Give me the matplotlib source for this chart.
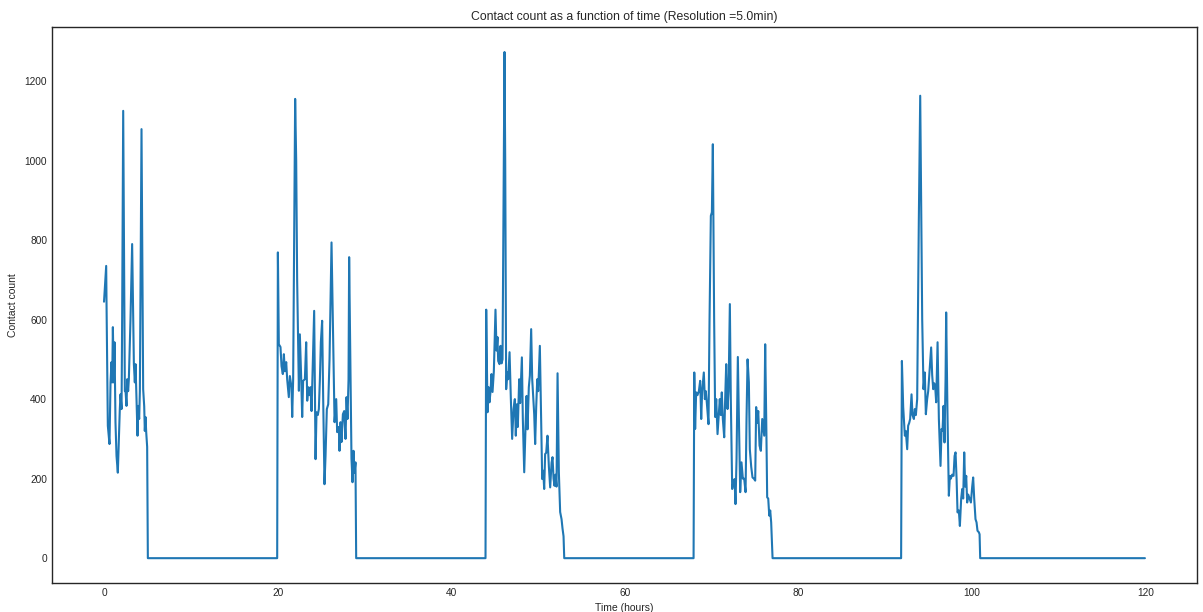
import matplotlib
matplotlib.use("Agg")
import matplotlib.pyplot as plt
import numpy as np

# Time (hours) and contact counts per active period
day1_hours = [0.0, 0.25, 0.29, 0.44, 0.63, 0.75, 0.86, 0.94, 1.02, 1.13, 1.21, 1.32, 1.44, 1.59, 1.71,
              1.82, 1.90, 2.02, 2.09, 2.21, 2.33, 2.40, 2.48, 2.59, 2.67, 2.78, 2.86, 3.05, 3.24, 3.44,
              3.55, 3.63, 3.74, 3.86, 3.94, 4.05, 4.13, 4.32, 4.51, 4.63, 4.70, 4.78, 4.86, 4.97, 5.05]
day1_counts = [645, 735, 640, 333, 287, 442, 493, 442, 581, 442, 543, 342, 257, 215, 300,
               375, 412, 375, 609, 1125, 700, 420, 420, 383, 450, 420, 450, 600, 790, 488,
               442, 488, 400, 308, 383, 350, 420, 1079, 425, 382, 320, 355, 317, 280, 0]

day2_hours = [19.95, 20.03, 20.14, 20.33, 20.45, 20.60, 20.72, 20.83, 20.99, 21.10, 21.29, 21.41, 21.60,
              21.68, 21.79, 22.02, 22.14, 22.25, 22.45, 22.56, 22.72, 22.83, 22.94, 23.14, 23.29, 23.41,
              23.52, 23.64, 23.79, 23.91, 24.06, 24.21, 24.37, 24.48, 24.63, 24.75, 24.87, 24.98, 25.13,
              25.25, 25.40, 25.52, 25.67, 25.83, 25.98, 26.21, 26.40, 26.56, 26.75, 26.86, 27.05, 27.13,
              27.25, 27.36, 27.52, 27.67, 27.82, 27.94, 28.05, 28.17, 28.24, 28.40, 28.51, 28.63, 28.74,
              28.86, 28.97, 29.05]
day2_counts = [0, 769, 538, 531, 483, 463, 513, 470, 493, 450, 405, 458, 430,
               355, 450, 1155, 1000, 700, 421, 563, 450, 355, 446, 450, 543, 396,
               430, 410, 430, 370, 500, 622, 249, 367, 360, 375, 450, 543, 597,
               400, 186, 257, 375, 387, 500, 794, 550, 342, 400, 317, 330, 270,
               342, 292, 362, 370, 300, 405, 350, 450, 757, 450, 250, 191, 270,
               215, 241, 0]

day3_hours = [43.95, 44.03, 44.18, 44.30, 44.41, 44.53, 44.64, 44.76, 44.91, 45.10, 45.22, 45.33, 45.41,
              45.56, 45.68, 45.80, 45.91, 46.14, 46.22, 46.33, 46.45, 46.56, 46.72, 46.87, 47.02, 47.18,
              47.33, 47.44, 47.56, 47.67, 47.83, 47.94, 48.14, 48.25, 48.41, 48.56, 48.68, 48.79, 48.94,
              49.06, 49.21, 49.33, 49.56, 49.67, 49.79, 49.91, 50.02, 50.21, 50.36, 50.48, 50.60, 50.71,
              50.82, 50.94, 51.09, 51.25, 51.40, 51.56, 51.67, 51.79, 51.90, 52.02, 52.13, 52.25, 52.40,
              52.55, 52.71, 52.82, 52.94, 53.02]
day3_counts = [0, 625, 367, 430, 392, 420, 463, 418, 470, 625, 522, 556, 496,
               488, 534, 490, 500, 1273, 1000, 425, 468, 450, 518, 400, 300, 375,
               400, 308, 387, 330, 450, 390, 505, 350, 216, 330, 408, 324, 430,
               459, 576, 450, 362, 287, 380, 450, 420, 534, 350, 199, 220, 174,
               262, 265, 308, 230, 178, 240, 254, 200, 182, 210, 180, 465, 216,
               116, 98, 75, 55, 0]

day4_hours = [67.92, 68.00, 68.10, 68.22, 68.37, 68.53, 68.68, 68.80, 68.91, 69.10, 69.22, 69.33, 69.45,
              69.64, 69.76, 69.91, 70.03, 70.14, 70.29, 70.41, 70.53, 70.68, 70.79, 70.94, 71.06, 71.17,
              71.29, 71.45, 71.56, 71.68, 71.83, 71.95, 72.10, 72.21, 72.37, 72.49, 72.64, 72.75, 72.87,
              73.02, 73.14, 73.29, 73.44, 73.60, 73.75, 73.91, 74.02, 74.14, 74.29, 74.40, 74.56, 74.71,
              74.87, 75.02, 75.13, 75.25, 75.37, 75.52, 75.67, 75.83, 75.94, 76.06, 76.17, 76.29, 76.40,
              76.52, 76.64, 76.75, 76.86, 77.02]
day4_counts = [0, 467, 325, 417, 410, 420, 446, 350, 420, 467, 400, 420, 390,
               337, 600, 861, 870, 1041, 600, 355, 400, 312, 350, 400, 360, 417,
               350, 304, 400, 488, 375, 420, 639, 400, 174, 190, 199, 136, 250,
               506, 350, 166, 241, 200, 200, 166, 350, 500, 442, 274, 230, 203,
               200, 195, 380, 340, 370, 283, 270, 350, 330, 308, 538, 350, 153,
               150, 107, 120, 90, 0]

day5_hours = [91.83, 91.92, 92.07, 92.26, 92.37, 92.53, 92.64, 92.76, 92.87, 93.03, 93.14, 93.30, 93.41,
              93.53, 93.68, 93.87, 94.03, 94.18, 94.26, 94.41, 94.56, 94.68, 94.83, 94.95, 95.10, 95.29,
              95.41, 95.53, 95.64, 95.76, 95.87, 96.03, 96.18, 96.37, 96.49, 96.60, 96.72, 96.83, 96.95,
              97.02, 97.18, 97.33, 97.45, 97.56, 97.71, 97.87, 97.99, 98.10, 98.22, 98.33, 98.48, 98.60,
              98.75, 98.87, 98.98, 99.10, 99.21, 99.33, 99.44, 99.56, 99.71, 99.87, 100.02, 100.13, 100.25,
              100.40, 100.52, 100.63, 100.79, 100.87, 100.94, 119.92]
day5_counts = [0, 496, 380, 308, 320, 274, 333, 340, 350, 412, 360, 350, 375,
               360, 400, 850, 1163, 800, 600, 425, 467, 362, 400, 420, 470, 530,
               460, 425, 440, 430, 392, 543, 350, 232, 325, 320, 383, 291, 450,
               618, 350, 157, 207, 200, 210, 207, 257, 266, 200, 115, 120, 81,
               150, 174, 150, 266, 180, 207, 140, 160, 150, 140, 180, 203, 150,
               98, 90, 69, 65, 60, 0, 0]

hours = np.concatenate([day1_hours, day2_hours, day3_hours, day4_hours, day5_hours])
counts = np.concatenate([day1_counts, day2_counts, day3_counts, day4_counts, day5_counts])

plt.style.use("seaborn-v0_8-white")
plt.rcParams["font.family"] = ["Liberation Sans", "DejaVu Sans"]
fig = plt.figure(figsize=(12.03, 6.12), dpi=100)
ax = fig.add_axes([0.0432, 0.0466, 0.9518, 0.9098])
ax.plot(hours, counts, color="#1f77b4", linewidth=1.5)
ax.set_title("Contact count as a function of time (Resolution =5.0min)", fontsize=8.8, color="0.15", pad=5)
ax.set_xlabel("Time (hours)", fontsize=7.5, color="0.15", labelpad=3)
ax.set_ylabel("Contact count", fontsize=7.5, color="0.15", labelpad=5)
ax.tick_params(labelsize=7.3, colors="0.15")
for s in ax.spines.values():
    s.set_color("0.15")
    s.set_linewidth(1.0)
fig.savefig("out.png", dpi=100)
